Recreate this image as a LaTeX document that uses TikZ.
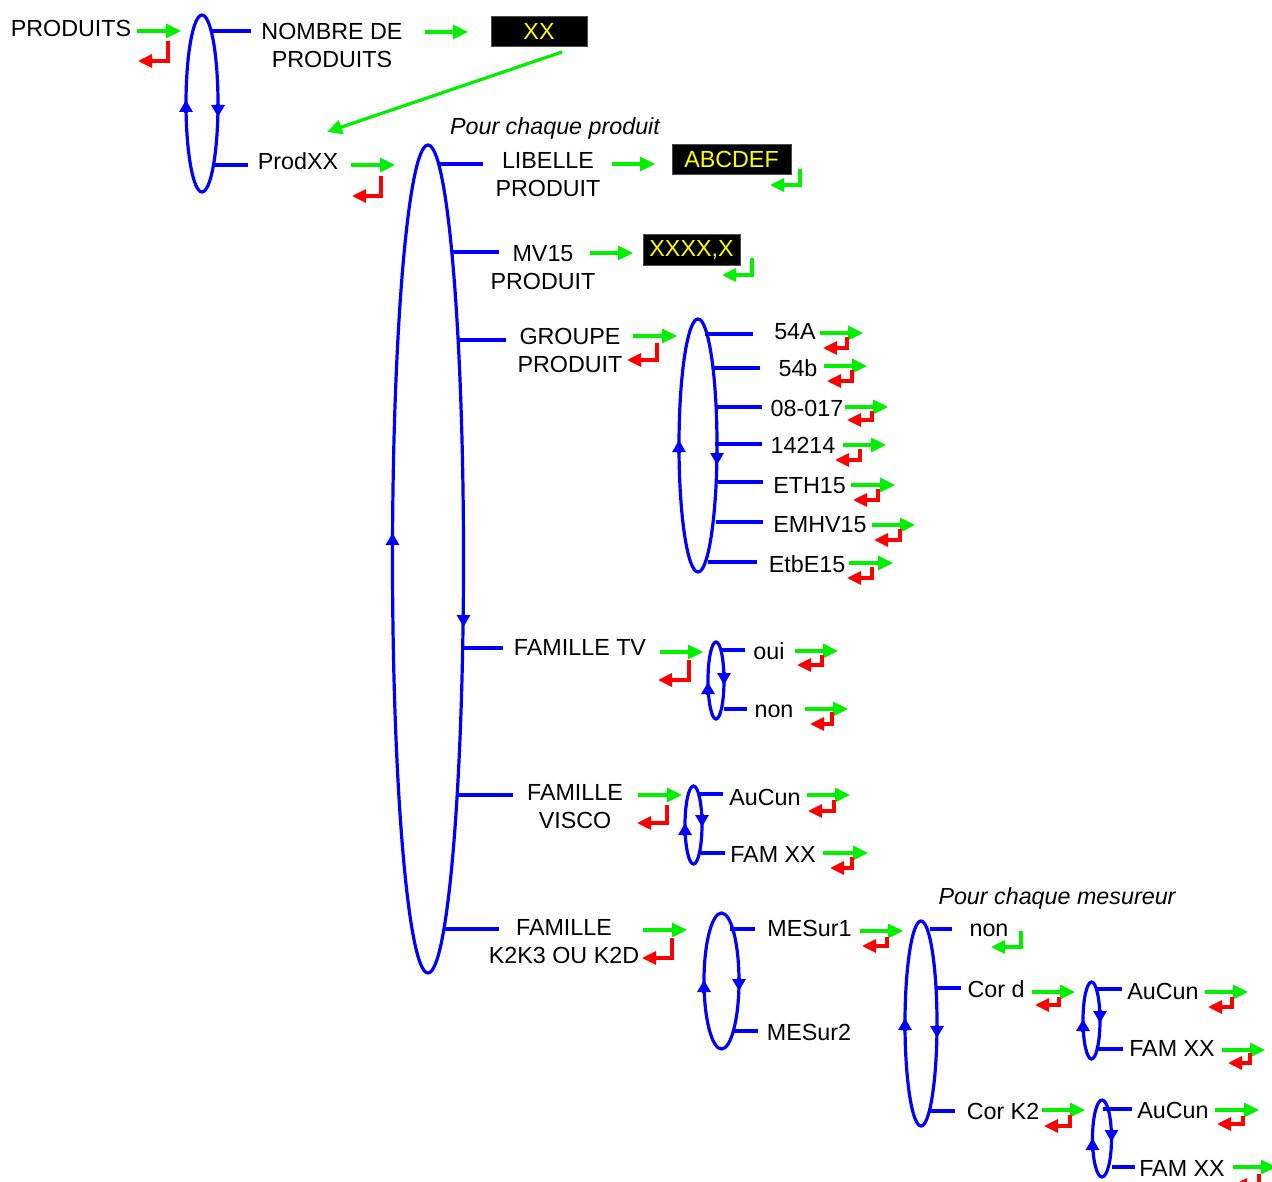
\documentclass[tikz,border=0pt]{standalone}
\usepackage{fontspec}
\setmainfont{Liberation Sans}
\usetikzlibrary{arrows.meta,shapes.geometric,calc}

\definecolor{blu}{RGB}{0,0,255}
\definecolor{grn}{RGB}{0,240,0}
\definecolor{rd}{RGB}{255,0,0}
\definecolor{yel}{RGB}{255,255,0}

\tikzset{
  txt/.style={font=\fontsize{23.3}{28}\selectfont, inner sep=0pt, anchor=base},
  txtit/.style={txt, font=\fontsize{23.3}{28}\selectfont\itshape},
  txtii/.style={font=\fontsize{23.3}{28}\selectfont, inner sep=0pt, align=center, anchor=center},
  ring/.style={draw=blu, line width=3.2pt, ellipse, inner sep=0pt, outer sep=0pt},
  ringtip/.style={draw=blu, line width=3.2pt, -{Triangle[length=12pt,width=13pt]}},
  branch/.style={draw=blu, line width=3.2pt},
  fwd/.style={draw=grn, line width=3.2pt, -{Triangle[length=15pt,width=14pt]}},
  backr/.style={draw=rd, line width=3.2pt, -{Triangle[length=14pt,width=13pt]}, line join=miter},
  backg/.style={draw=grn, line width=3.2pt, -{Triangle[length=14pt,width=13pt]}, line join=miter},
  valbox/.style={fill=black, draw=black!70, line width=0.8pt, text=yel, inner sep=0pt,
    font=\fontsize{23.3}{28}\selectfont},
}

% loop ring: name, cx, cy, rx, ry, tip of the upward mark (left), tip of the downward mark (right)
\newcommand\loopring[7]{%
  \node[ring, minimum width={2*#4pt}, minimum height={2*#5pt}] (#1) at (#2,#3) {};
  \draw[ringtip] ($(#1.west)+(0,#6-#3+13)$) -- ($(#1.west)+(0,#6-#3)$);
  \draw[ringtip] ($(#1.east)+(0,#7-#3-13)$) -- ($(#1.east)+(0,#7-#3)$);
}
% forward arrow: x1, x2, y
\newcommand\fw[3]{\draw[fwd] (#1,#3) -- (#2,#3);}
% return arrow: style, x, y1, y2, x of tip
\newcommand\bk[5]{\draw[#1] (#2,#3) -- (#2,#4) -- (#5,#4);}
% branch line: x1, x2, y
\newcommand\br[3]{\draw[branch] (#1,#3) -- (#2,#3);}

\begin{document}
\begin{tikzpicture}[x=1pt, y=-1pt]
\fill[white] (0,0) rectangle (1272,1182);
\useasboundingbox (0,0) rectangle (1272,1182);
\clip (0,0) rectangle (1272,1182);

% ---------- top level ----------
\node[txt] (produits) at (71,37) {PRODUITS};
\fw{137}{181}{31}
\bk{backr}{168}{41}{61}{138}
\loopring{r1}{202}{103.5}{16}{88.5}{100}{117}
\br{212}{251}{31}
\br{214}{248}{165}
\node[txtii] (nombre) at (332,45) {NOMBRE DE\\PRODUITS};
\fw{425}{468}{32}
\node[valbox, minimum width=96pt, minimum height=30pt] (xx) at (539,31) {XX};
\coordinate (xxfoot) at (562,52);
\coordinate (prodin) at (327,132);
\draw[fwd] (xxfoot) -- (prodin);
\node[txt] (prodxx) at (298,170) {ProdXX};
\fw{351}{395}{165}
\bk{backr}{381}{176}{196}{352}

% ---------- per product ----------
\node[txtit] (pcp) at (555,135) {Pour chaque produit};
\loopring{rp}{428}{559}{35.5}{414}{533}{627}
\br{440}{483}{164}
\br{453}{499}{252}
\br{459}{506}{340}
\br{464}{503}{648}
\br{458}{513}{795}
\br{444}{499}{929}

\node[txtii] (libelle) at (548,174.5) {LIBELLE\\PRODUIT};
\fw{612}{655}{164}
\node[valbox, minimum width=119pt, minimum height=30pt] (abc) at (731.5,159) {ABCDEF};
\bk{backg}{800}{169}{185}{770}

\node[txtii] (mv15) at (543,267.5) {MV15\\PRODUIT};
\fw{590}{633}{253}
\node[valbox, minimum width=97pt, minimum height=31pt] (xxxx) at (691.5,249.5) {XXXX,X};
\bk{backg}{752}{258}{275}{722}

% ---------- groupe produit ----------
\node[txtii] (groupe) at (570,350.5) {GROUPE\\PRODUIT};
\fw{633}{677}{336}
\bk{backr}{657}{343}{360}{627}
\loopring{rg}{698}{445.5}{19}{126.5}{440}{465}
\br{705}{753}{334}
\br{712}{760}{368}
\br{715}{762}{407}
\br{715}{762}{444}
\br{718}{763}{482}
\br{716}{763}{522}
\br{708}{757}{562}
\node[txt] (g1) at (795,340) {54A};
\fw{820}{863}{333} \bk{backr}{847}{337}{348}{823}
\node[txt] (g2) at (798,376) {54b};
\fw{824}{867}{366} \bk{backr}{852}{370}{381}{827}
\node[txt] (g3) at (807,416) {08-017};
\fw{845}{888}{407} \bk{backr}{872}{411}{420}{847}
\node[txt] (g4) at (803,453) {14214};
\fw{843}{886}{445} \bk{backr}{860}{449}{460}{835}
\node[txt] (g5) at (809.5,493) {ETH15};
\fw{851}{895}{485} \bk{backr}{878}{489}{500}{853}
\node[txt] (g6) at (820,532) {EMHV15};
\fw{872}{915}{525} \bk{backr}{900}{529}{540}{874}
\node[txt] (g7) at (807,572) {EtbE15};
\fw{849}{893}{563} \bk{backr}{872}{567}{578}{847}

% ---------- famille TV ----------
\node[txt] (ftv) at (580,655) {FAMILLE TV};
\fw{660}{703}{652}
\bk{backr}{689}{660}{680}{658}
\loopring{rtv}{716}{680.5}{8}{38.5}{682}{685}
\br{721}{745}{650}
\br{724}{747}{709}
\node[txt] (oui) at (769,659) {oui};
\fw{795}{838}{651} \bk{backr}{822}{655}{665}{797}
\node[txt] (non) at (774,717) {non};
\fw{805}{848}{709} \bk{backr}{832}{712}{724}{810}

% ---------- famille visco ----------
\node[txtii] (fvisco) at (575,806.5) {FAMILLE\\VISCO};
\fw{638}{682}{795}
\bk{backr}{667}{805}{823}{637}
\loopring{rvi}{693.5}{825}{8.5}{39}{823}{827}
\br{698}{723}{794}
\br{701}{725}{853}
\node[txt] (va) at (765,805) {AuCun};
\fw{807}{850}{795} \bk{backr}{834}{800}{811}{808}
\node[txt] (vf) at (773,862) {FAM XX};
\fw{823}{868}{853} \bk{backr}{852}{857}{868}{830}

% ---------- famille K2K3 ----------
\node[txtii] (fk2) at (564,942) {FAMILLE\\K2K3 OU K2D};
\fw{643}{687}{930}
\bk{backr}{672}{938}{958}{642}
\loopring{rk}{721.5}{981}{17.5}{68}{980}{991}
\br{730}{755}{929}
\br{733}{758}{1031}
\node[txt] (m1) at (809.5,936) {MESur1};
\fw{860}{903}{931} \bk{backr}{887}{937}{946}{862}
\node[txt] (m2) at (809,1040) {MESur2};

% ---------- per measuring device ----------
\node[txtit] (pcm) at (1057,904) {Pour chaque mesureur};
\loopring{rm}{921}{1023.5}{16}{102.5}{1018}{1038}
\br{930}{952}{929}
\br{937}{961}{988}
\br{930}{955}{1111}
\node[txt] (mnon) at (989,936) {non};
\bk{backg}{1021}{931}{947}{991}

\node[txt] (cord) at (996,997) {Cor d};
\fw{1032}{1075}{992} \bk{backr}{1059}{997}{1005}{1035}
\loopring{rcd}{1091.5}{1020.5}{8.5}{38.5}{1019}{1023}
\br{1097}{1122}{989}
\br{1098}{1123}{1049}
\node[txt] (cda) at (1163,999) {AuCun};
\fw{1205}{1248}{992} \bk{backr}{1232}{997}{1007}{1208}
\node[txt] (cdf) at (1172,1056) {FAM XX};
\fw{1222}{1265}{1050} \bk{backr}{1250}{1053}{1063}{1228}

\node[txt] (cork) at (1003,1119) {Cor K2};
\fw{1042}{1085}{1110} \bk{backr}{1070}{1115}{1126}{1044}
\loopring{rck}{1102}{1138.5}{9.5}{38.5}{1138}{1142}
\br{1103}{1132}{1109}
\br{1112}{1135}{1167}
\node[txt] (cka) at (1173,1118) {AuCun};
\fw{1215}{1259}{1110} \bk{backr}{1243}{1116}{1124}{1217}
\node[txt] (ckf) at (1182,1176) {FAM XX};
\fw{1233}{1276}{1167} \bk{backr}{1259}{1174}{1185}{1233}
\end{tikzpicture}
\end{document}
